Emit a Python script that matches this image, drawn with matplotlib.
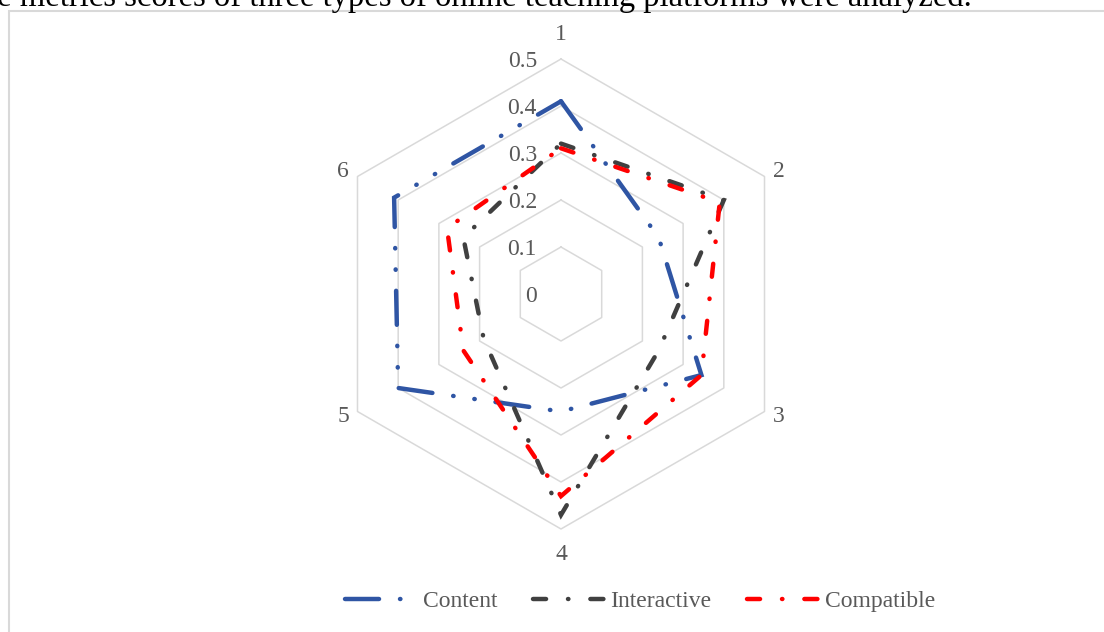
import numpy as np
import matplotlib
matplotlib.use("Agg")
from matplotlib import pyplot as plt
from matplotlib.patches import Rectangle
from matplotlib.transforms import offset_copy

# DATA
axis_labels = ["1", "2", "3", "4", "5", "6"]
r_ticks = [0, 0.1, 0.2, 0.3, 0.4, 0.5]
r_tick_labels = ["0", "0.1", "0.2", "0.3", "0.4", "0.5"]
content = [0.41, 0.24, 0.345, 0.25, 0.40, 0.41]
interactive = [0.32, 0.40, 0.24, 0.47, 0.19, 0.24]
compatible = [0.31, 0.39, 0.345, 0.43, 0.24, 0.28]
series_names = ["Content", "Interactive", "Compatible"]
caption = "The metrics scores of three types of online teaching platforms were analyzed."

plt.rcParams["font.family"] = ["Liberation Serif", "DejaVu Serif"]
plt.rcParams["lines.scale_dashes"] = False

W, H = 1104, 632
fig = plt.figure(figsize=(W / 100, H / 100), dpi=100)

# chart frame (cropped screenshot of the Excel chart area)
fig.add_artist(Rectangle((8.5 / W, -0.1), 1.2, 1.1 - 10.5 / H,
                         transform=fig.transFigure, fill=False,
                         edgecolor="#D9D9D9", lw=1.5))
fig.text(972 / W, 1 - 6 / H, caption, ha="right", va="baseline",
         fontsize=23.5, color="black")

# SET PLOT
cx, cy, rad = 561, H - 294, 235
ax = fig.add_axes([(cx - rad) / W, (cy - rad) / H, 2 * rad / W, 2 * rad / H],
                  projection="polar")
ax.set_theta_offset(np.pi / 2)
ax.set_theta_direction(-1)
ax.set_ylim(0, 0.5)
ax.grid(False)
ax.set_xticks([])
ax.set_yticks([])
ax.spines["polar"].set_visible(False)

angles = np.linspace(0, 2 * np.pi, len(axis_labels), endpoint=False)
closed = np.append(angles, angles[0])

# hexagon grid
for level in r_ticks[1:]:
    ax.plot(closed, [level] * len(closed), color="#D9D9D9", lw=1.1,
            zorder=1, clip_on=False)

# value labels next to axis 1
lab_tr = offset_copy(ax.transData, fig=fig, x=-24, y=-2.5, units="dots")
for level, txt in zip(r_ticks, r_tick_labels):
    ax.text(0, level, txt, transform=lab_tr, ha="right", va="center",
            fontsize=17, color="#595959")

# category labels
for ang, txt in zip(angles, axis_labels):
    s, c = np.sin(ang), np.cos(ang)
    dy = c * (25 if abs(c) > 0.9 else 10)
    tr = offset_copy(ax.transData, fig=fig, x=16.7 * s, y=dy, units="dots")
    ax.text(ang, 0.5, txt, transform=tr, ha="center", va="center",
            fontsize=17, color="#595959")

# series
styles = [
    ("#2F55A4", (0, (24.5, 15.1, 0.3, 15.1, 0.3, 15.1))),
    ("#404040", (0, (9.4, 15.8, 0.3, 15.8))),
    ("#FF0000", (0, (9.4, 15.8, 0.3, 15.8))),
]
for vals, name, (col, ls) in zip([content, interactive, compatible],
                                 series_names, styles):
    ax.plot(closed, vals + [vals[0]], color=col, lw=3.2, linestyle=ls,
            dash_capstyle="round", solid_capstyle="round",
            dash_joinstyle="miter", label=name, zorder=3)

leg = fig.legend(loc="center", bbox_to_anchor=(640 / W, 1 - 601 / H),
                 ncol=3, frameon=False, fontsize=17, handlelength=3.05,
                 handletextpad=0.25, columnspacing=1.5)
for t in leg.get_texts():
    t.set_color("#595959")

fig.savefig("out.png", dpi=100)
